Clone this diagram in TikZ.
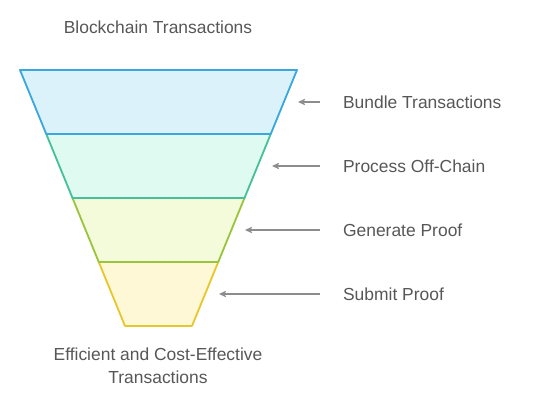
\documentclass[tikz,border=0pt]{standalone}
\usepackage{fontspec}
\setmainfont{Liberation Sans}
\usetikzlibrary{arrows.meta, positioning}
\definecolor{LineBlue}{HTML}{3AA8DC}
\definecolor{FillBlue}{HTML}{DCF2FB}
\definecolor{LineTeal}{HTML}{45C09A}
\definecolor{FillTeal}{HTML}{DFFAF1}
\definecolor{LineLime}{HTML}{98C53C}
\definecolor{FillLime}{HTML}{F3FBDA}
\definecolor{LineGold}{HTML}{E6C82E}
\definecolor{FillGold}{HTML}{FFF8D6}
\definecolor{TextGray}{HTML}{575757}
\definecolor{ArrowGray}{HTML}{8C8C8C}

\begin{document}
\begin{tikzpicture}[
    x=0.025cm,   % one unit = one pixel of the sketch
    y=-0.025cm,  % y runs downwards
    band/.style={line width=1.3pt, line join=round},
    caption/.style={text=TextGray, font=\fontsize{12.4}{16.4}\selectfont},
    steplabel/.style={caption, anchor=west, inner sep=2pt},
    pointer/.style={-{Stealth[length=5pt, width=4.5pt, inset=1pt]}, ArrowGray, line width=1pt, shorten <=14pt}
]
    % === CANVAS ===
    \useasboundingbox (0, 0) rectangle (548, 401);

    % === FUNNEL CORNERS ===
    \coordinate (L0) at (20, 70);     \coordinate (R0) at (297, 70);
    \coordinate (L1) at (46.25, 134); \coordinate (R1) at (270.75, 134);
    \coordinate (L2) at (72.5, 198);  \coordinate (R2) at (244.5, 198);
    \coordinate (L3) at (98.75, 262); \coordinate (R3) at (218.25, 262);
    \coordinate (L4) at (125, 326);   \coordinate (R4) at (192, 326);

    % === BANDS (bottom first, so upper edges lie on top) ===
    \filldraw[band, draw=LineGold, fill=FillGold] (L3) -- (R3) -- (R4) -- (L4) -- cycle;
    \filldraw[band, draw=LineLime, fill=FillLime] (L2) -- (R2) -- (R3) -- (L3) -- cycle;
    \filldraw[band, draw=LineTeal, fill=FillTeal] (L1) -- (R1) -- (R2) -- (L2) -- cycle;
    \filldraw[band, draw=LineBlue, fill=FillBlue] (L0) -- (R0) -- (R1) -- (L1) -- cycle;

    % === TOP AND BOTTOM CAPTIONS ===
    \node[caption] (Source) at (158, 27) {Blockchain Transactions};
    \node[caption, align=center] (Outcome) at (158, 366) {Efficient and Cost-Effective\\Transactions};

    % === STEP LABELS ===
    \node[steplabel] (LabBundle)   at (340, 102) {Bundle Transactions};
    \node[steplabel] (LabProcess)  at (340, 166) {Process Off-Chain};
    \node[steplabel] (LabGenerate) at (340, 230) {Generate Proof};
    \node[steplabel] (LabSubmit)   at (340, 294) {Submit Proof};

    % arrow tips, just right of the funnel
    \coordinate (TipBundle)   at (298, 102);
    \coordinate (TipProcess)  at (272, 166);
    \coordinate (TipGenerate) at (245, 230);
    \coordinate (TipSubmit)   at (219, 294);

    \draw[pointer] (LabBundle.west)   -- (TipBundle);
    \draw[pointer] (LabProcess.west)  -- (TipProcess);
    \draw[pointer] (LabGenerate.west) -- (TipGenerate);
    \draw[pointer] (LabSubmit.west)   -- (TipSubmit);
\end{tikzpicture}
\end{document}
